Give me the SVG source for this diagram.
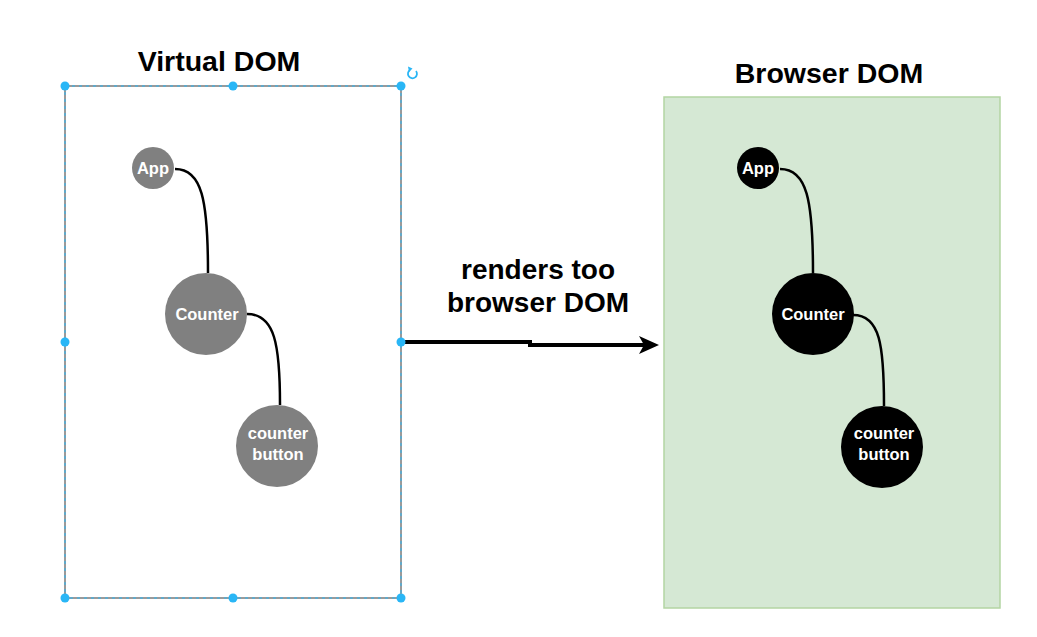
<svg xmlns="http://www.w3.org/2000/svg" width="1037" height="637" viewBox="0 0 1037 637">
<style>
text{font-family:"Liberation Sans",Arial,sans-serif;font-weight:bold;text-anchor:middle}
.title{font-size:28.5px;fill:#000}
.lbl{font-size:28px;fill:#000}
.n{font-size:16.5px;fill:#fff}
.gray{fill:#808080}
.blk{fill:#000}
.edge{fill:none;stroke:#000;stroke-width:2.5}
.h{fill:#29b6f6}
</style>
<rect width="1037" height="637" fill="#fff"/>
<text class="title" x="219" y="71">Virtual DOM</text>
<text class="title" x="829" y="83">Browser DOM</text>
<g id="virtual-dom">
<rect x="65" y="86" width="336" height="512" fill="#fff" stroke="#7a7a7a" stroke-width="1.5"/>
<rect x="65" y="86" width="336" height="512" fill="none" stroke="#29b6f6" stroke-width="1" stroke-dasharray="3,4"/>
</g>
<g id="browser-dom">
<rect x="664" y="97" width="336" height="511" fill="#d5e8d4" stroke="#b3d5a3" stroke-width="1.5"/>
</g>
<g id="connectors">
<path class="edge" d="M175,169 C202,169 208,200 208,273"/>
<path class="edge" d="M247,314 C275,314 280,345 280,405"/>
<path class="edge" d="M780,169 C807,169 813,200 813,273"/>
<path class="edge" d="M853,315 C880,315 884,345 884,406"/>
<path d="M405,342 L530,342 L530,345 L645,345" fill="none" stroke="#000" stroke-width="4"/>
<path d="M659,345 L639,336 L644,345 L639,354 Z" fill="#000"/>
<text class="lbl" x="538" y="279">renders too</text>
<text class="lbl" x="538" y="312">browser DOM</text>
</g>
<g id="v-app"><circle class="gray" cx="153" cy="168" r="21"/><text class="n" x="153" y="174">App</text></g>
<g id="v-counter"><circle class="gray" cx="206" cy="314" r="41"/><text class="n" x="207" y="320">Counter</text></g>
<g id="v-button"><circle class="gray" cx="277" cy="446" r="41"/><text class="n" x="278" y="439">counter</text><text class="n" x="278" y="460">button</text></g>
<g id="b-app"><circle class="blk" cx="758" cy="168" r="21"/><text class="n" x="758" y="174">App</text></g>
<g id="b-counter"><circle class="blk" cx="813" cy="314" r="41"/><text class="n" x="813" y="320">Counter</text></g>
<g id="b-button"><circle class="blk" cx="882" cy="447" r="41"/><text class="n" x="884" y="439">counter</text><text class="n" x="884" y="460">button</text></g>
<g id="selection-handles">
<circle class="h" cx="65" cy="86" r="4.5"/><circle class="h" cx="233" cy="86" r="4.5"/><circle class="h" cx="401" cy="86" r="4.5"/>
<circle class="h" cx="65" cy="342" r="4.5"/><circle class="h" cx="401" cy="342" r="4.5"/>
<circle class="h" cx="65" cy="598" r="4.5"/><circle class="h" cx="233" cy="598" r="4.5"/><circle class="h" cx="401" cy="598" r="4.5"/>
<path d="M416,71 A4.5,4.5 0 1 1 410,70" fill="none" stroke="#29b6f6" stroke-width="1.8"/>
<path d="M408,66.5 L412.5,68.5 L409,72 Z" fill="#29b6f6"/>
</g>
</svg>
